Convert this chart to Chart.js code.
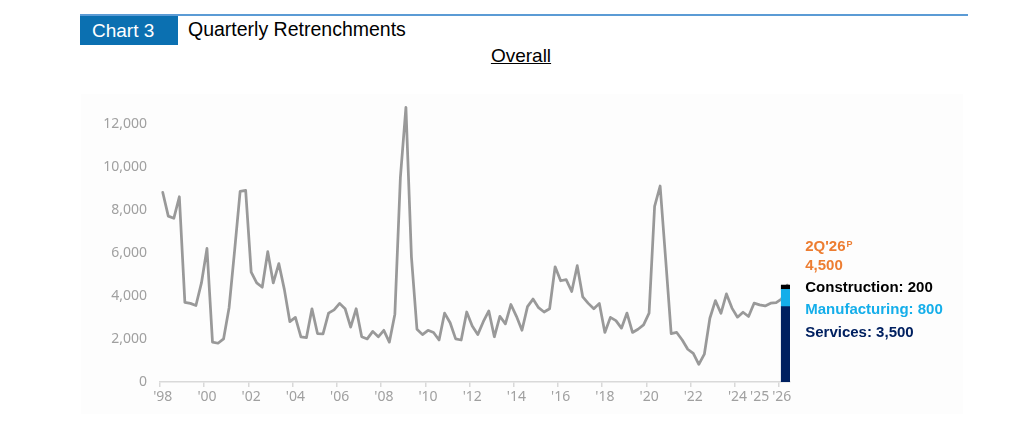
<!DOCTYPE html>
<html lang="en">
<head>
  <meta charset="UTF-8">
  <title>Quarterly Retrenchments</title>
  <script src="https://cdn.jsdelivr.net/npm/chart.js@4.4.1/dist/chart.umd.min.js"></script>
  <style>
    body { margin: 0; background: #fff; width: 1024px; height: 431px; overflow: hidden; position: relative; font-family: "Liberation Sans", Arial, sans-serif; }
    .rule { position: absolute; left: 80px; top: 14px; width: 888px; height: 2px; background: #5b9bd5; }
    .tag { position: absolute; left: 80px; top: 16px; width: 98px; height: 29px; background: #0b70b1; color: #fff; font-size: 19px; line-height: 29px; padding-left: 12px; box-sizing: border-box; }
    .head { position: absolute; left: 188px; top: 15px; height: 29px; line-height: 29px; font-size: 19.5px; color: #000; }
    .sub { position: absolute; left: 0; width: 1042px; top: 45px; text-align: center; font-size: 19px; color: #000; text-decoration: underline; }
    .panel { position: absolute; left: 81px; top: 94px; width: 882px; height: 320px; background: #fdfdfd; }
    canvas { position: absolute; left: 0; top: 0; }
  </style>
</head>
<body>
  <div class="rule"></div>
  <div class="tag">Chart 3</div>
  <div class="head">Quarterly Retrenchments</div>
  <div class="sub">Overall</div>
  <div class="panel"></div>
  <canvas id="chart" width="1024" height="431"></canvas>

  <script>
  // quarters 1Q98 .. 2Q26
  const quarters = [];
  for (let yr = 1998; yr <= 2026; yr++) {
    for (let q = 1; q <= 4; q++) {
      if (yr === 2026 && q > 2) break;
      quarters.push(q + 'Q' + String(yr).slice(2));
    }
  }

  // overall retrenchments
  const overall = [
    8800, 7700, 7600, 8600,   // 1998
    3700, 3650, 3550, 4600,   // 1999
    6200, 1850, 1800, 2000,   // 2000
    3450, 6100, 8850, 8900,   // 2001
    5100, 4600, 4400, 6050,   // 2002
    4600, 5500, 4300, 2800,   // 2003
    3000, 2100, 2060, 3400,   // 2004
    2250, 2230, 3200, 3350,   // 2005
    3650, 3400, 2550, 3400,   // 2006
    2100, 2000, 2350, 2100,   // 2007
    2400, 1850, 3150, 9500,   // 2008
    12750, 5800, 2450, 2200,  // 2009
    2400, 2300, 1950, 3200,   // 2010
    2750, 2000, 1950, 3250,   // 2011
    2600, 2200, 2800, 3300,   // 2012
    2100, 3050, 2700, 3600,   // 2013
    3050, 2400, 3500, 3850,   // 2014
    3450, 3250, 3400, 5350,   // 2015
    4700, 4750, 4200, 5400,   // 2016
    3950, 3650, 3400, 3650,   // 2017
    2300, 3000, 2850, 2500,   // 2018
    3200, 2300, 2450, 2650,   // 2019
    3200, 8150, 9100, 5700,   // 2020
    2250, 2300, 1950, 1520,   // 2021
    1330, 820, 1290, 2960,    // 2022
    3780, 3190, 4090, 3430,   // 2023
    3010, 3240, 3040, 3660,   // 2024
    3580, 3530, 3660, 3690,   // 2025
    3860, 4500                // 2026
  ];

  // 2Q'26 preliminary breakdown
  const latestQuarter = '2Q26';
  const services = 3500;
  const manufacturing = 800;
  const construction = 200;

  // tick labels on the x axis
  const xTickLabels = {
    '1Q98': "'98", '1Q00': "'00", '1Q02': "'02", '1Q04': "'04", '1Q06': "'06",
    '1Q08': "'08", '1Q10': "'10", '1Q12': "'12", '1Q14': "'14", '1Q16': "'16",
    '1Q18': "'18", '1Q20': "'20", '1Q22': "'22", '1Q24': "'24", '1Q25': "'25", '1Q26': "'26"
  };
  const xTickMarks = ['1Q98','1Q00','1Q02','1Q04','1Q06','1Q08','1Q10','1Q12','1Q14',
                      '1Q16','1Q18','1Q20','1Q22','1Q24','1Q26'];
  const yTicks = [0, 2000, 4000, 6000, 8000, 10000, 12000];

  const ORANGE = '#ed7d31', LIGHTBLUE = '#14aeea', NAVY = '#002060';
  const BOLD = 'bold 15px "Liberation Sans", Arial, sans-serif';

  const labelPlugin = {
    id: 'latestLabels',
    afterDatasetsDraw(chart) {
      const bar = chart.getDatasetMeta(1).data[0];
      if (!bar) return;
      const ctx = chart.ctx;
      const x = bar.x + bar.width / 2 + 12;
      const total = services + manufacturing + construction;
      const top = chart.scales.y.getPixelForValue(total);
      ctx.save();
      ctx.textBaseline = 'middle';
      ctx.textAlign = 'left';
      ctx.font = BOLD;
      ctx.fillStyle = ORANGE;
      ctx.fillText("2Q'26", x, top - 38);
      const w = ctx.measureText("2Q'26").width;
      ctx.font = 'bold 9px "Liberation Sans", Arial, sans-serif';
      ctx.fillText('P', x + w + 1, top - 41);
      ctx.font = BOLD;
      ctx.fillText(total.toLocaleString('en-US'), x, top - 19);
      ctx.fillStyle = '#000';
      ctx.fillText('Construction: ' + construction.toLocaleString('en-US'), x, top + 3);
      ctx.fillStyle = LIGHTBLUE;
      ctx.fillText('Manufacturing: ' + manufacturing.toLocaleString('en-US'), x, top + 25);
      ctx.fillStyle = NAVY;
      ctx.fillText('Services: ' + services.toLocaleString('en-US'), x, top + 48);
      ctx.restore();
    }
  };

  const ctx = document.getElementById('chart').getContext('2d');
  new Chart(ctx, {
    data: {
      labels: quarters,
      datasets: [{
        type: 'line',
        label: 'Overall',
        data: overall,
        borderColor: '#999999',
        borderWidth: 2.75,
        pointRadius: 0,
        tension: 0,
        borderJoinStyle: 'round',
        borderCapStyle: 'round',
        stack: 'line',
        order: 1
      }, {
        type: 'bar',
        label: 'Services',
        data: [{ x: latestQuarter, y: services }],
        backgroundColor: NAVY,
        barThickness: 12,
        stack: 'bar',
        order: 0
      }, {
        type: 'bar',
        label: 'Manufacturing',
        data: [{ x: latestQuarter, y: manufacturing }],
        backgroundColor: LIGHTBLUE,
        barThickness: 12,
        stack: 'bar',
        order: 0
      }, {
        type: 'bar',
        label: 'Construction',
        data: [{ x: latestQuarter, y: construction }],
        backgroundColor: '#000000',
        barThickness: 12,
        stack: 'bar',
        order: 0
      }]
    },
    options: {
      responsive: false,
      animation: false,
      layout: { padding: { left: 0, right: 234, top: 102, bottom: 0 } },
      plugins: { legend: { display: false }, tooltip: { enabled: false } },
      scales: {
        x: {
          type: 'category',
          offset: true,
          stacked: true,
          afterFit(scale) { scale.height = 49; },
          border: { display: true, color: '#d9d9d9', width: 1.5 },
          grid: {
            drawOnChartArea: false,
            drawTicks: true,
            tickLength: 5,
            lineWidth: 1.5,
            color: c => (c.tick && xTickMarks.includes(quarters[c.tick.value])) ? '#d9d9d9' : 'rgba(0,0,0,0)'
          },
          ticks: {
            autoSkip: false,
            maxRotation: 0,
            padding: 2,
            color: '#a0a0a0',
            font: { family: '"Noto Sans", sans-serif', size: 14 },
            callback(value) { return xTickLabels[quarters[value]] || ''; }
          }
        },
        y: {
          stacked: true,
          min: 0,
          max: 13000,
          afterFit(scale) { scale.width = 160; },
          afterBuildTicks(scale) { scale.ticks = yTicks.map(v => ({ value: v })); },
          border: { display: false },
          grid: { display: false, drawTicks: false },
          ticks: {
            padding: 13,
            color: '#a0a0a0',
            font: { family: '"Noto Sans", sans-serif', size: 14 },
            callback(value) { return value.toLocaleString('en-US'); }
          }
        }
      }
    },
    plugins: [labelPlugin]
  });
  </script>
</body>
</html>
